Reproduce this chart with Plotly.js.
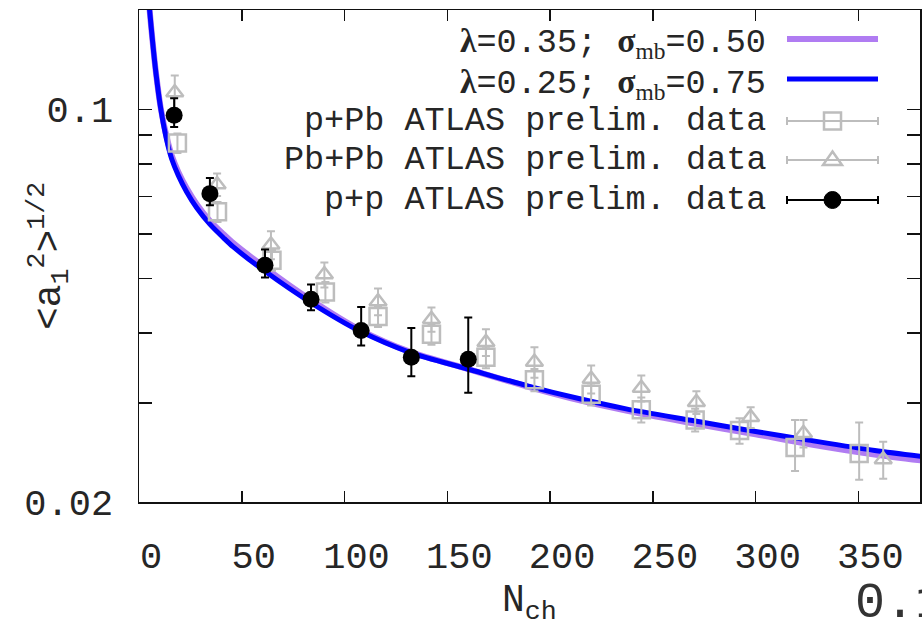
<!DOCTYPE html>
<html>
<head>
<meta charset="utf-8">
<script src="https://cdn.plot.ly/plotly-3.0.1.min.js"></script>
<style>html,body{margin:0;padding:0;background:#fff;}#chart{width:922px;height:624px;}</style>
</head>
<body>
<div id="chart"></div>
<script>
// ---- data ----
const nchModel = [4.6, 5.16, 6.57, 8.27, 10.56, 13.48, 15.91, 19.12, 23.21, 28.07, 34.55, 41.02, 45.88, 60.97, 83.2, 107.5, 132, 160, 189, 215, 237, 270, 300, 325, 358, 381];
const modelA = [0.160, 0.1503, 0.1326, 0.1160, 0.1006, 0.0892, 0.0828, 0.0774, 0.0724, 0.0678, 0.0633, 0.0600, 0.0578, 0.0524, 0.0459, 0.0405, 0.0370, 0.0345, 0.0321, 0.0303, 0.0291, 0.0276, 0.0264, 0.0254, 0.0243, 0.0237];
const modelB = [0.160, 0.1503, 0.1325, 0.1158, 0.1004, 0.0881, 0.0816, 0.0763, 0.0713, 0.0668, 0.0624, 0.0591, 0.0569, 0.0516, 0.0454, 0.0403, 0.0369, 0.0345, 0.0322, 0.0305, 0.0293, 0.0279, 0.0267, 0.0258, 0.0247, 0.0241];

const nchPPb = [18.7, 38.2, 64.7, 90.7, 116.3, 142.3, 168.8, 192.4, 220, 244.4, 270.6, 292.2, 319.2, 350.4];
const a1PPb = [0.0871, 0.0657, 0.0539, 0.0473, 0.0428, 0.0398, 0.0362, 0.0330, 0.0311, 0.0292, 0.0280, 0.0268, 0.0250, 0.0244];
const a1PPbErrUp = [0.0035, 0.0027, 0.0023, 0.0020, 0.0018, 0.0017, 0.0016, 0.0015, 0.0014, 0.0015, 0.0013, 0.0014, 0.0030, 0.0033];
const a1PPbErrDn = [0.0035, 0.0027, 0.0023, 0.0020, 0.0018, 0.0017, 0.0016, 0.0015, 0.0014, 0.0015, 0.0013, 0.0014, 0.0023, 0.0025];

const nchPbPb = [17.4, 38, 64.2, 90.2, 116.3, 142.3, 168.8, 192.4, 220, 244.4, 271.2, 297.6, 323.3, 362.1];
const a1PbPb = [0.1072, 0.0735, 0.0574, 0.0508, 0.0455, 0.0423, 0.0385, 0.0355, 0.0331, 0.0319, 0.0301, 0.0283, 0.0265, 0.0238];
const a1PbPbErr = [0.0077, 0.0034, 0.0033, 0.0026, 0.0025, 0.0021, 0.0021, 0.0022, 0.0019, 0.0017, 0.0014, 0.0012, 0.0015, 0.0018];

const nchPP = [17.1, 34.5, 61.3, 83.7, 108.1, 132.5, 160.2];
const a1PP = [0.0976, 0.0708, 0.0528, 0.0459, 0.0404, 0.0362, 0.0359];
const a1PPErrUp = [0.0071, 0.0047, 0.0035, 0.0029, 0.0041, 0.0046, 0.0067];
const a1PPErrDn = [0.0046, 0.0033, 0.0026, 0.0020, 0.0024, 0.0027, 0.0046];

const xTickVals = [0, 50, 100, 150, 200, 250, 300, 350];
const yTickVals = [0.02, 0.03, 0.04, 0.05, 0.06, 0.07, 0.08, 0.09, 0.1];
const yTickText = ['0.02', '', '', '', '', '', '', '', '0.1'];

const legendLabels = [
  '<span style="font-family:Liberation Serif;font-weight:bold">λ</span>=0.35; <span style="font-family:Liberation Serif;font-weight:bold">σ</span><sub><span style="font-family:Liberation Serif">mb</span></sub>=0.50',
  '<span style="font-family:Liberation Serif;font-weight:bold">λ</span>=0.25; <span style="font-family:Liberation Serif;font-weight:bold">σ</span><sub><span style="font-family:Liberation Serif">mb</span></sub>=0.75',
  'p+Pb ATLAS prelim. data',
  'Pb+Pb ATLAS prelim. data',
  'p+p ATLAS prelim. data'
];

// ---- styling / layout ----
const PURPLE = '#b07cf2', BLUE = '#0000ff', GREY = '#bdbdbd', BLACK = '#000000', INK = '#262626';
const MONO = 'Liberation Mono, DejaVu Sans Mono, monospace';
const L = 139, R = 920, T = 10, B = 502;
function px(x) { return (x - L) / (R - L); }
function py(y) { return (B - y) / (B - T); }

const traces = [
  { x: nchModel, y: modelA, mode: 'lines', line: { color: PURPLE, width: 6, shape: 'spline', smoothing: 0.8 }, name: 'λ=0.35; σmb=0.50', hoverinfo: 'skip' },
  { x: nchModel, y: modelB, mode: 'lines', line: { color: BLUE, width: 5, shape: 'spline', smoothing: 0.8 }, name: 'λ=0.25; σmb=0.75', hoverinfo: 'skip' },
  { x: nchPPb, y: a1PPb, mode: 'markers', name: 'p+Pb ATLAS prelim. data',
    marker: { symbol: 'square-open', size: 17, color: GREY, line: { color: GREY, width: 2.5 } },
    error_y: { type: 'data', symmetric: false, array: a1PPbErrUp, arrayminus: a1PPbErrDn, color: GREY, thickness: 2, width: 4 } },
  { x: nchPbPb, y: a1PbPb, mode: 'markers', name: 'Pb+Pb ATLAS prelim. data',
    marker: { symbol: 'triangle-up-open', size: 15, color: GREY, line: { color: GREY, width: 2.5 } },
    error_y: { type: 'data', array: a1PbPbErr, color: GREY, thickness: 2, width: 4 } },
  { x: nchPP, y: a1PP, mode: 'markers', name: 'p+p ATLAS prelim. data',
    marker: { symbol: 'circle', size: 17, color: BLACK },
    error_y: { type: 'data', symmetric: false, array: a1PPErrUp, arrayminus: a1PPErrDn, color: BLACK, thickness: 2, width: 4 } }
];

// custom gnuplot-style legend (text right-aligned, key sample on the right)
const rowY = [38, 79, 121, 160, 200];
const keyX0 = 787, keyX1 = 878, keyXc = 832.5;
const annotations = legendLabels.map((t, i) => ({
  xref: 'paper', yref: 'paper', x: px(768), y: py(rowY[i] + (i < 2 ? 5 : 0)),
  xanchor: 'right', yanchor: 'middle', showarrow: false, text: t,
  font: { family: MONO, size: 33.5, color: INK }
}));
annotations.push(
  { xref: 'paper', yref: 'paper', x: px(49), y: 0.5, xanchor: 'center', yanchor: 'middle', textangle: -90, showarrow: false,
    text: '&lt;a<sub>1</sub><sup>2</sup>&gt;<sup>1/2</sup>', font: { family: MONO, size: 38, color: INK } },
  { xref: 'paper', yref: 'paper', x: px(529), y: py(603), xanchor: 'center', yanchor: 'middle', showarrow: false,
    text: 'N<sub>ch</sub>', font: { family: MONO, size: 38, color: INK } },
  { xref: 'paper', yref: 'paper', x: px(853), y: py(603), xanchor: 'left', yanchor: 'middle', showarrow: false,
    text: '0.1', font: { family: MONO, size: 50, color: '#333333' } }
);

const shapes = [];
function hline(y, color, w) { shapes.push({ type: 'line', xref: 'paper', yref: 'paper', x0: px(keyX0), x1: px(keyX1), y0: py(y), y1: py(y), line: { color: color, width: w } }); }
function caps(y, color) {
  [keyX0, keyX1].forEach(x => shapes.push({ type: 'line', xref: 'paper', yref: 'paper', x0: px(x), x1: px(x), y0: py(y - 4), y1: py(y + 4), line: { color: color, width: 2 } }));
}
hline(rowY[0] + 1, PURPLE, 6);
hline(rowY[1], BLUE, 5);
hline(rowY[2], GREY, 2); caps(rowY[2], GREY);
shapes.push({ type: 'rect', xref: 'paper', yref: 'paper', x0: px(keyXc - 8.5), x1: px(keyXc + 8.5), y0: py(rowY[2] + 8.5), y1: py(rowY[2] - 8.5), line: { color: GREY, width: 2.5 }, fillcolor: 'rgba(0,0,0,0)' });
hline(rowY[3], GREY, 2); caps(rowY[3], GREY);
shapes.push({ type: 'path', xref: 'paper', yref: 'paper',
  path: 'M' + px(keyXc) + ',' + py(rowY[3] - 8.5) + ' L' + px(keyXc - 9.5) + ',' + py(rowY[3] + 5) + ' L' + px(keyXc + 9.5) + ',' + py(rowY[3] + 5) + ' Z',
  line: { color: GREY, width: 2.5 }, fillcolor: 'rgba(0,0,0,0)' });
hline(rowY[4], BLACK, 2); caps(rowY[4], BLACK);
shapes.push({ type: 'circle', xref: 'paper', yref: 'paper', x0: px(keyXc - 8.5), x1: px(keyXc + 8.5), y0: py(rowY[4] + 8.5), y1: py(rowY[4] - 8.5), line: { color: BLACK, width: 1 }, fillcolor: BLACK });

const layout = {
  width: 922, height: 624,
  margin: { l: L, r: 922 - R, t: T, b: 624 - B, pad: 0 },
  paper_bgcolor: '#ffffff', plot_bgcolor: '#ffffff',
  showlegend: false,
  xaxis: {
    range: [0, 380], tickvals: xTickVals, ticktext: xTickVals.map(String),
    ticks: 'inside', ticklen: 11, tickwidth: 1.5, tickcolor: '#111',
    showline: true, linecolor: '#111', linewidth: 1.5, mirror: 'ticks',
    showgrid: false, zeroline: false,
    tickfont: { family: MONO, size: 37, color: INK },
    ticklabelshift: 12, ticklabelstandoff: 20
  },
  yaxis: {
    type: 'log', range: [Math.log10(0.02), Math.log10(0.1503)],
    tickvals: yTickVals, ticktext: yTickText,
    ticks: 'inside', ticklen: 13, tickwidth: 1.5, tickcolor: '#111',
    showline: true, linecolor: '#111', linewidth: 1.5, mirror: 'ticks',
    showgrid: false, zeroline: false,
    tickfont: { family: MONO, size: 37, color: INK },
    ticklabelstandoff: 17
  },
  annotations: annotations,
  shapes: shapes
};

Plotly.newPlot('chart', traces, layout, { staticPlot: true, displayModeBar: false });
</script>
</body>
</html>
